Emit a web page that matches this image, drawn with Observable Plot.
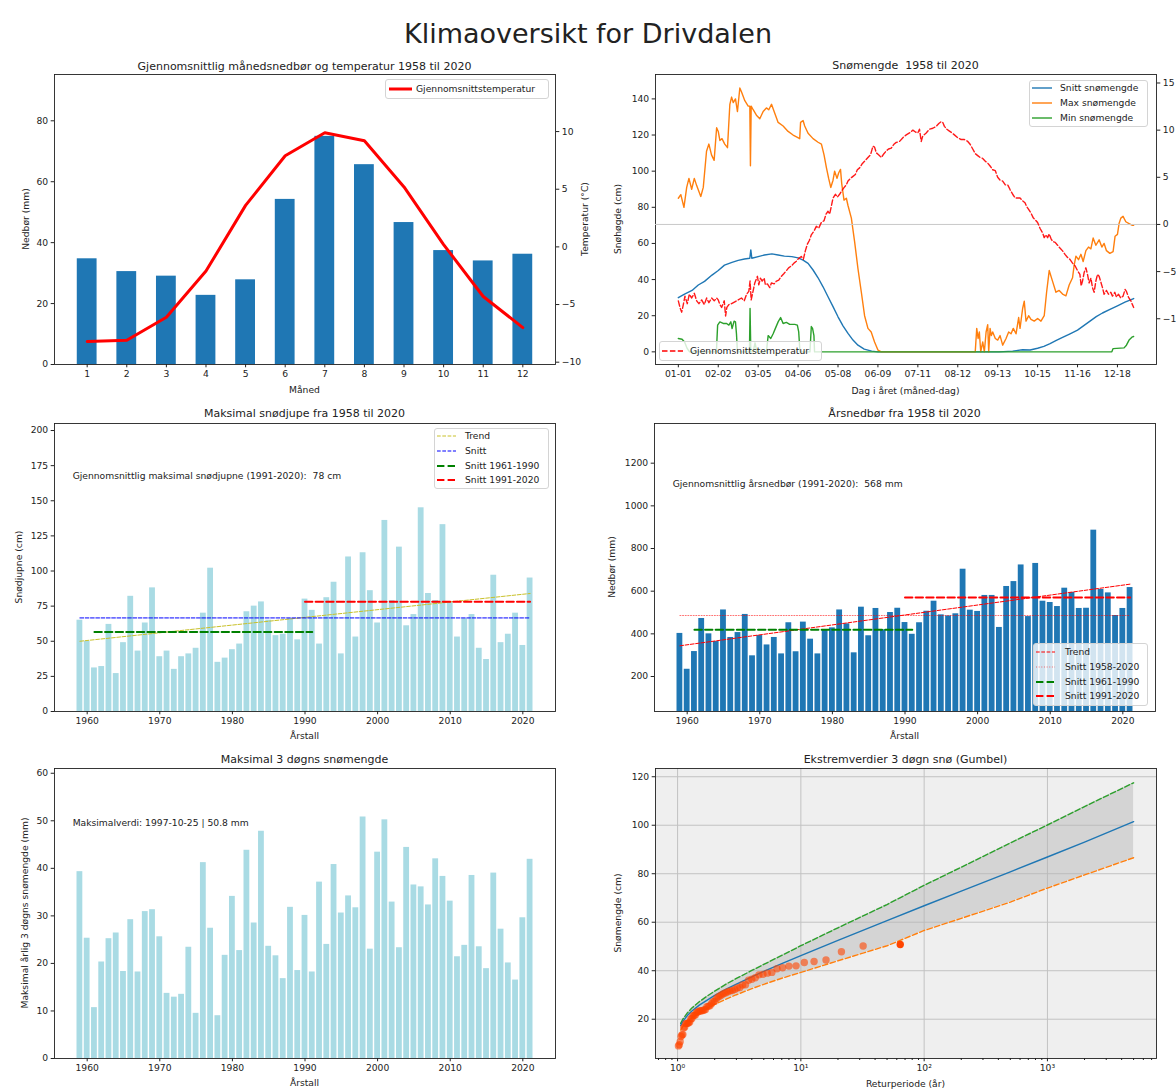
<!DOCTYPE html>
<html><head><meta charset="utf-8">
<script src="https://cdn.jsdelivr.net/npm/d3@7"></script>
<script src="https://cdn.jsdelivr.net/npm/@observablehq/plot@0.6"></script>
<style>
body{margin:0;background:#fff;}
#c{position:relative;width:1176px;height:1091px;overflow:hidden;font-family:"DejaVu Sans",sans-serif;color:#222;background:#fff;}
.t{position:absolute;white-space:pre;line-height:1;}
.lg{position:absolute;background:rgba(255,255,255,0.8);border:1px solid #d4d4d4;border-radius:3px;box-sizing:border-box;}
</style></head><body><div id="c"></div>
<script>
// ---------- DATA ----------
const months = [1,2,3,4,5,6,7,8,9,10,11,12];
const precipMonthly = [34.7,30.5,29.0,22.7,27.8,54.2,74.9,65.6,46.6,37.4,34.0,36.2];
const tempMonthly = [-8.2,-8.1,-6.1,-2.1,3.6,7.9,9.9,9.2,5.2,0.2,-4.3,-7.0];

const dayTickIdx = [0,32,64,96,128,160,192,224,256,288,320,352];
const dayTickLabels = ["01-01","02-02","03-05","04-06","05-08","06-09","07-11","08-12","09-13","10-15","11-16","12-18"];

// [day index, snow cm]
const snowMeanPts = [[0,30],[5,32],[11,34],[16,37],[21,39],[27,42.5],[32,45],[37,48],[43,49.5],[48,50.6],[53,51.4],[57.3,51.8],[58.1,56.4],[58.9,51.8],[64,52.7],[69,53.6],[75,54.2],[80,53.6],[85,53],[91,52.7],[96,52],[100,50.8],[104,49],[108,45.3],[112,41],[116,36],[120,30.5],[124,25],[128,19.4],[132,14.4],[136,10.2],[140,6.5],[144,3.7],[149,1.5],[155,0.4],[160,0],[257,0],[268,0.4],[276,1.2],[282,1],[288,2],[293,3],[298,4.5],[303,6.3],[308,8],[314,10],[320,12],[325,14.5],[330,17],[335,19.5],[340,21.5],[346,23.5],[352,25.5],[358,27.5],[365,29.5]];
const snowMaxPts = [[0,85],[2,87],[4.5,80],[6.7,91],[8.5,96],[10.7,90],[12.8,96],[14.7,92],[18,86],[20,91],[22.6,111],[24.5,115],[26.6,109],[28.7,106],[30.7,124],[32,122],[33.3,117],[35,118],[37.2,115],[39.4,113],[41.3,137],[42.7,141],[44,138],[45.8,140],[47.4,133],[49.3,146],[50.6,144],[53.3,139],[56,136],[57.3,136],[57.8,103],[58.4,136],[60,134],[62.6,131],[65.3,129],[68,133],[70.6,135],[72.5,134],[74.7,137],[77.3,132],[80,127],[84,125],[88,122],[92,120],[94.7,119],[97.3,118],[98,127],[100,128],[101.3,125],[104,121],[108,118],[112,116],[114.7,115],[116.8,109],[118.7,102],[120.5,96],[122.2,91],[124,95],[125.3,100],[127.2,96],[128.5,99],[130,101],[131,93],[132.8,84],[134.7,85],[136,81],[138.7,74],[141.3,61],[144,46],[146.7,33],[149.3,20],[152,13],[154.6,11],[157.3,5.5],[160,1],[162.7,0],[238,0],[239.2,13],[240.3,7.4],[241.3,11],[242.4,0],[244,5.5],[245.3,0],[246.7,11],[248,15],[248.8,0],[249.9,13],[250.9,9],[252,11],[254.1,7.4],[256,6.5],[257.9,9],[260,3.7],[262.7,7.4],[264.8,11],[266.7,10],[268.5,13],[270.7,10],[272.8,19],[273.9,13],[276,24],[277.3,28],[278.7,17],[280.8,20],[282.7,18],[285.3,17],[288,18.5],[290.7,17],[293.3,20],[295.2,33],[297.3,45],[300,39],[302.7,33],[305.3,34],[308,32],[310.7,31],[313.3,37],[316,41],[317.3,48],[318.7,53],[320.8,51],[322.7,54],[324.5,50],[326.7,56],[328.8,58],[330.7,57],[332.5,63],[334.7,59],[337.3,62],[339.5,58],[341.3,60],[343.2,56],[345.9,54.5],[348.5,55.5],[350.1,64],[352,65],[353.3,71],[354.7,74],[356.5,75],[358.7,72],[361.3,71],[364,70],[365,70]];
const snowMinPts = [[0,7.4],[3,7],[5,5.5],[7,2],[9,0],[30.5,0],[31.5,14.8],[33.3,16.6],[36,15.7],[38.7,15.7],[40.5,14.8],[42.1,16.6],[43.1,12.9],[44.7,17],[45.8,16.6],[46.6,10],[47.4,0],[57,0],[57.5,24],[58.1,0],[60,0],[61.5,5],[63,0],[70.6,0],[72,9],[74.1,7.4],[76,10],[77.8,13],[80,16.6],[82,19],[84,15.7],[86.6,16.3],[89.3,15.2],[93.3,15.2],[95.4,14.8],[96.5,11],[97.5,0],[105.5,0],[106.6,14],[107.6,13],[108.7,9],[109.2,0],[347.5,0],[348.5,1.8],[357.3,2.2],[359.2,3.7],[361.3,6.5],[364,8.3],[365,8.5]];
// [day index, °C]
const tempDailyPts = [[0,-8.1],[1.3,-8.8],[2.7,-9.3],[4,-8.5],[5.3,-7.6],[7.2,-8.4],[8.8,-7.4],[10.7,-7.8],[12.8,-7.3],[14.7,-8.1],[16.5,-8.4],[18.7,-8.0],[20.8,-8.5],[22.7,-7.8],[24.5,-8.3],[26.7,-7.8],[28.8,-8.1],[30.7,-7.8],[32,-8.0],[33.3,-8.5],[34.7,-8.8],[36.8,-8.1],[37.9,-9.7],[38.9,-8.8],[40.5,-8.5],[42.7,-8.4],[45.3,-8.2],[48,-8.0],[50.6,-7.8],[52.8,-8.1],[54.7,-7.4],[56.5,-7.1],[57.5,-6.0],[58.4,-8.0],[59.7,-7.2],[61.3,-6.2],[63.4,-5.5],[64.5,-6.4],[65.8,-5.7],[67.2,-6.0],[68.8,-5.7],[69.8,-6.4],[71.4,-6.3],[73.3,-6.7],[74.6,-6.2],[76.8,-6.3],[78.7,-6.0],[80.5,-5.9],[82.6,-5.5],[84.7,-5.2],[86.6,-4.9],[88.4,-4.6],[90.6,-4.4],[92.7,-4.1],[94.6,-3.9],[96.5,-3.6],[98.6,-3.4],[100.2,-3.7],[101.8,-2.8],[103.4,-2.1],[105,-1.7],[106.6,-1.1],[108.8,-0.7],[110.6,-0.2],[112.5,-0.4],[114.6,0.2],[116.8,0.4],[118.4,1.1],[120,1.4],[121.3,1.1],[122.6,1.9],[124,2.8],[125.9,3.2],[127.5,2.9],[129.3,3.2],[131.2,3.6],[132.8,3.9],[134.7,4.2],[136,4.6],[138.1,4.9],[140,5.1],[141.9,5.3],[143.5,5.8],[145.3,6.0],[147.2,6.4],[149.3,6.7],[152,7.1],[154.1,7.4],[156,8.3],[157.3,8.2],[158.7,7.6],[160.5,7.4],[162.7,7.1],[164.8,7.5],[166.7,7.8],[168.5,8.0],[170.7,8.1],[172.8,8.5],[174.7,8.7],[177.3,8.8],[180,9.2],[182.7,9.5],[185.3,9.7],[188,10.0],[190.1,9.8],[192,9.7],[193.3,10.1],[194.7,8.8],[196,9.4],[198.7,9.7],[201.3,10.1],[204,10.2],[206.7,10.4],[208.8,10.7],[210.7,10.9],[212,10.8],[213.3,10.4],[215.2,10.1],[217.3,9.9],[219.5,9.7],[221.3,9.5],[224,9.2],[226.7,9.0],[229.3,9.0],[232,8.8],[233.9,8.5],[236,8.0],[238.1,7.5],[240,7.3],[241.9,7.1],[244,7.0],[246.1,6.7],[248,6.5],[249.9,6.2],[252,5.8],[254.1,5.7],[256,5.0],[257.9,4.7],[260,4.6],[262.1,4.2],[264,4.2],[265.9,3.7],[268,3.2],[270.1,2.8],[272,2.8],[273.9,2.8],[276,2.5],[277.9,2.3],[279.2,1.9],[280.8,1.6],[282.7,1.2],[284.5,0.7],[286.1,0.5],[288,0.2],[289.9,-0.4],[292,-0.9],[293.3,-1.4],[294.7,-1.1],[296,-1.4],[297.3,-1.0],[298.7,-1.5],[300,-1.8],[302.1,-1.9],[304,-2.2],[305.9,-2.5],[308,-2.8],[310.1,-3.2],[312,-3.5],[313.9,-3.7],[316,-4.1],[318.1,-4.4],[320,-4.9],[321.9,-5.3],[322.9,-6.5],[324,-6.0],[325.3,-5.1],[326.7,-4.6],[328,-5.3],[329.3,-6.2],[330.7,-5.7],[332,-6.7],[333.3,-7.2],[334.7,-6.0],[336,-5.3],[337.3,-5.5],[338.9,-6.2],[340,-6.7],[341.3,-7.4],[343.2,-7.0],[344.8,-7.4],[346.7,-7.2],[348,-7.6],[349.9,-7.2],[351.2,-7.7],[352.8,-7.4],[354.7,-7.8],[356.5,-7.6],[358.1,-6.9],[359.2,-7.1],[360.8,-7.7],[362.7,-8.1],[364,-8.5],[365,-8.8]];

const years = d3.range(1959, 2022);
const snowDepthMax = [65,50,31,32,62,27,49,82,43,63,88,39,43,30,39,41,45,70,102,35,38,44,48,71,75,78,65,54,55,66,51,80,72,48,81,92,41,110,53,113,86,63,136,79,117,61,69,145,84,79,133,78,53,66,69,45,37,97,49,55,70,47,95];
const snowTrend = [[1959,50],[2021,84]];
const snowMeanAll = {x1:1959, x2:2021, v:66.6};
const snowMean6190 = {x1:1961, x2:1991, v:56.5};
const snowMean9120 = {x1:1990, x2:2021, v:78.2};

const annualPrecip = [402,234,317,472,400,364,512,383,406,491,297,392,348,383,306,452,316,455,375,306,420,428,512,447,311,525,391,519,419,500,520,453,398,452,506,553,489,484,494,703,511,505,580,580,430,622,645,723,481,730,553,547,528,614,594,519,520,886,608,592,486,519,617];
const precipTrend = [[1959,344],[2021,633]];
const precipMeanAll = {x1:1959, x2:2021, v:486};
const precipMean6190 = {x1:1961, x2:1991, v:419};
const precipMean9120 = {x1:1990, x2:2021, v:570};

const threeDaySnow = [39.3,25.3,10.7,20.3,25.2,26.4,18.3,29.2,18.2,30.9,31.3,25.6,13.7,12.9,13.5,23.4,9.5,41.2,27.4,9.0,21.7,34.1,22.7,43.8,28.5,47.8,23.6,21.6,16.8,31.8,18.5,30.1,18.2,37.1,24.0,40.8,30.6,34.2,31.7,50.8,23.0,43.4,50.2,32.9,23.3,44.4,36.5,36.1,32.3,42.0,38.3,33.1,21.4,23.8,38.5,23.5,18.9,39.0,27.2,20.1,16.5,29.6,41.9];

const gumbelT = [1.06,1.1,1.2,1.3,1.5,1.7,2,2.5,3,4,5,7,10,20,50,100,200,500,1000,2000,5000];
const gumbelMid = [17.4,19.0,21.5,23.3,25.8,27.6,29.8,32.5,34.5,37.5,39.7,42.9,46.2,52.5,60.7,66.8,72.8,80.8,86.9,93.0,101.5];
const gumbelUpper = [18.3,19.9,22.6,24.5,27.2,29.2,31.6,34.6,36.8,40.1,42.6,46.3,50.3,57.7,67.3,75.2,82.7,92.7,100.1,107.7,117.5];
const gumbelLower = [15.5,16.9,19.0,20.5,22.6,24.2,26.1,28.4,30.1,32.6,34.4,36.9,39.3,44.1,50.3,56.6,61.6,68.3,74.1,79.5,86.6];

// ---------- HELPERS ----------
const C = document.getElementById("c");
const NS = "http://www.w3.org/2000/svg";
const M = {l: 50, r: 45, t: 10, b: 30};
const FS = "9.2px";
function panel(frame, opts) {
  const [x0, y0, x1, y1] = frame;
  const el = Plot.plot({
    width: x1 - x0 + M.l + M.r, height: y1 - y0 + M.t + M.b,
    marginLeft: M.l, marginRight: M.r, marginTop: M.t, marginBottom: M.b,
    style: {fontFamily: '"DejaVu Sans", sans-serif', fontSize: FS, color: "#222", background: "none", overflow: "visible"},
    ...opts
  });
  Object.assign(el.style, {position: "absolute", left: (x0 - M.l) + "px", top: (y0 - M.t) + "px", maxWidth: "none"});
  C.append(el);
}
function txt(s, x, y, size, rot) {
  const d = document.createElement("div");
  d.className = "t"; d.textContent = s;
  Object.assign(d.style, {left: x + "px", top: y + "px", fontSize: size,
    transform: "translate(-50%,-50%)" + (rot ? " rotate(-90deg)" : "")});
  C.append(d);
}
function legend([x, y, w, h], sx1, sx2, tx, rows) {
  const b = document.createElement("div");
  b.className = "lg";
  Object.assign(b.style, {left: x + "px", top: y + "px", width: w + "px", height: h + "px"});
  C.append(b);
  for (const r of rows) {
    const s = document.createElementNS(NS, "svg");
    s.setAttribute("width", sx2 - sx1); s.setAttribute("height", 10);
    Object.assign(s.style, {position: "absolute", left: sx1 + "px", top: (r.cy - 5) + "px", overflow: "visible"});
    const l = document.createElementNS(NS, "line");
    l.setAttribute("x1", 0); l.setAttribute("x2", sx2 - sx1); l.setAttribute("y1", 5); l.setAttribute("y2", 5);
    l.setAttribute("stroke", r.stroke); l.setAttribute("stroke-width", r.w);
    if (r.dash) l.setAttribute("stroke-dasharray", r.dash);
    if (r.op) l.setAttribute("stroke-opacity", r.op);
    s.append(l); C.append(s);
    const t = document.createElement("div");
    t.className = "t"; t.textContent = r.label;
    Object.assign(t.style, {left: tx + "px", top: r.cy + "px", fontSize: FS, transform: "translateY(-50%)"});
    C.append(t);
  }
}
const minus = d => d < 0 ? "\u2212" + (-d) : String(d);
const plain = d => String(d);
const AX = {tickSize: 3.3, tickPadding: 3, label: null};
const DASH = "3.7,1.6", DASH2 = "7.4,3.2", DASHL = "5.5,2.4", DOT = "1,1.65";
const BLUE = "#1f77b4", ORANGE = "#ff7f0e", GREEN = "#2ca02c", LIGHT = "#a9dbe4";
const YEAR_TICKS = [1960, 1970, 1980, 1990, 2000, 2010, 2020];

// ---------- TITLES ----------
txt("Klimaoversikt for Drivdalen", 588, 33, "27px");

// ---------- PANEL 1 ----------
const P1 = [54, 74, 555, 364];
const monthData = months.map((m, i) => ({m, p: precipMonthly[i], t: tempMonthly[i]}));
panel(P1, {
  x: {domain: [0.175, 12.825]}, y: {domain: [0, 95.2]},
  marks: [
    Plot.rect(monthData, {x1: d => d.m - 0.25, x2: d => d.m + 0.25, y1: 0, y2: "p", fill: BLUE}),
    Plot.axisX({...AX, ticks: months, tickFormat: plain}),
    Plot.axisY({...AX, ticks: [0, 20, 40, 60, 80], tickFormat: plain}),
    Plot.frame({stroke: "#222", strokeWidth: 0.9})
  ]
});
panel(P1, {
  x: {domain: [0.175, 12.825], axis: null}, y: {domain: [-10.2, 14.95]},
  marks: [
    Plot.line(monthData, {x: "m", y: "t", stroke: "red", strokeWidth: 3}),
    Plot.axisY({...AX, anchor: "right", ticks: [-10, -5, 0, 5, 10], tickFormat: minus})
  ]
});
txt("Gjennomsnittlig månedsnedbør og temperatur 1958 til 2020", 304.5, 66, "11px");
txt("Måned", 304.5, 390, FS);
txt("Nedbør (mm)", 26, 219, FS, true);
txt("Temperatur (°C)", 585, 219, FS, true);
legend([385, 79, 164, 20], 389, 412, 416, [{cy: 89, stroke: "red", w: 3, label: "Gjennomsnittstemperatur"}]);

// ---------- PANEL 2 ----------
const P2 = [655, 74, 1156, 364];
const xy = {x: d => d[0], y: d => d[1]};
panel(P2, {
  x: {domain: [-18.3, 383.3]}, y: {domain: [-7, 153.5]},
  marks: [
    Plot.line(snowMeanPts, {...xy, stroke: BLUE, strokeWidth: 1.4}),
    Plot.line(snowMaxPts, {...xy, stroke: ORANGE, strokeWidth: 1.4}),
    Plot.line(snowMinPts, {...xy, stroke: GREEN, strokeWidth: 1.4}),
    Plot.axisX({...AX, ticks: dayTickIdx, tickFormat: d => dayTickLabels[dayTickIdx.indexOf(d)]}),
    Plot.axisY({...AX, ticks: [0, 20, 40, 60, 80, 100, 120, 140], tickFormat: plain}),
    Plot.frame({stroke: "#222", strokeWidth: 0.9})
  ]
});
panel(P2, {
  x: {domain: [-18.3, 383.3], axis: null}, y: {domain: [-14.85, 15.9]},
  marks: [
    Plot.ruleY([0], {stroke: "#c8c8c8", strokeWidth: 1}),
    Plot.line(tempDailyPts, {...xy, stroke: "red", strokeOpacity: 0.9, strokeWidth: 1.4, strokeDasharray: DASHL}),
    Plot.axisY({...AX, anchor: "right", ticks: [-10, -5, 0, 5, 10, 15], tickFormat: minus})
  ]
});
txt("Snømengde  1958 til 2020", 905.5, 65, "11px");
txt("Dag i året (måned-dag)", 905.5, 391, FS);
txt("Snøhøgde (cm)", 618, 219, FS, true);
legend([1029, 80, 119, 47], 1032, 1052, 1060, [
  {cy: 88, stroke: BLUE, w: 1.4, label: "Snitt snømengde"},
  {cy: 103, stroke: ORANGE, w: 1.4, label: "Max snømengde"},
  {cy: 117.5, stroke: GREEN, w: 1.4, label: "Min snømengde"}
]);
legend([659, 341, 163, 20], 662, 683, 690, [{cy: 351, stroke: "red", w: 1.4, dash: DASHL, label: "Gjennomsnittstemperatur"}]);

// ---------- PANEL 3 ----------
const P3 = [54, 423, 555, 711];
const sd = years.map((y, i) => ({y, v: snowDepthMax[i]}));
const seg = (o) => [[o.x1, o.v], [o.x2, o.v]];
panel(P3, {
  x: {domain: [1955.5, 2024.5]}, y: {domain: [0, 205]},
  marks: [
    Plot.rect(sd, {x1: d => d.y - 0.4, x2: d => d.y + 0.4, y1: 0, y2: "v", fill: LIGHT}),
    Plot.line(snowTrend, {...xy, stroke: "#c9c12a", strokeWidth: 1, strokeDasharray: DASH}),
    Plot.line(seg(snowMeanAll), {...xy, stroke: "blue", strokeWidth: 1, strokeDasharray: DASH}),
    Plot.line(seg(snowMean6190), {...xy, stroke: "green", strokeWidth: 2, strokeDasharray: DASH2}),
    Plot.line(seg(snowMean9120), {...xy, stroke: "red", strokeWidth: 2, strokeDasharray: DASH2}),
    Plot.text(["Gjennomsnittlig maksimal snødjupne (1991-2020):  78 cm"], {x: 1958, y: 167.5, textAnchor: "start", fontSize: 9.2, fill: "#222"}),
    Plot.axisX({...AX, ticks: YEAR_TICKS, tickFormat: plain}),
    Plot.axisY({...AX, ticks: [0, 25, 50, 75, 100, 125, 150, 175, 200], tickFormat: plain}),
    Plot.frame({stroke: "#222", strokeWidth: 0.9})
  ]
});
txt("Maksimal snødjupe fra 1958 til 2020", 304.5, 413, "11px");
txt("Årstall", 304.5, 736, FS);
txt("Snødjupne (cm)", 18.5, 567, FS, true);
legend([434, 428, 115, 61], 437, 456, 465, [
  {cy: 435.5, stroke: "#c9c12a", w: 1, dash: DASH, label: "Trend"},
  {cy: 450.5, stroke: "blue", w: 1, dash: DASH, label: "Snitt"},
  {cy: 465.5, stroke: "green", w: 2, dash: DASH2, label: "Snitt 1961-1990"},
  {cy: 480, stroke: "red", w: 2, dash: DASH2, label: "Snitt 1991-2020"}
]);

// ---------- PANEL 4 ----------
const P4 = [654, 423, 1155, 711];
const ap = years.map((y, i) => ({y, v: annualPrecip[i]}));
panel(P4, {
  x: {domain: [1955.5, 2024.5]}, y: {domain: [36, 1386]},
  marks: [
    Plot.rect(ap, {x1: d => d.y - 0.4, x2: d => d.y + 0.4, y1: 0, y2: "v", fill: BLUE, clip: true}),
    Plot.line(precipTrend, {...xy, stroke: "red", strokeWidth: 1, strokeDasharray: DASH}),
    Plot.line(seg(precipMeanAll), {...xy, stroke: "red", strokeOpacity: 0.55, strokeWidth: 1, strokeDasharray: DOT}),
    Plot.line(seg(precipMean6190), {...xy, stroke: "green", strokeWidth: 2, strokeDasharray: DASH2}),
    Plot.line(seg(precipMean9120), {...xy, stroke: "red", strokeWidth: 2, strokeDasharray: DASH2}),
    Plot.text(["Gjennomsnittlig årsnedbør (1991-2020):  568 mm"], {x: 1958, y: 1100, textAnchor: "start", fontSize: 9.2, fill: "#222"}),
    Plot.axisX({...AX, ticks: YEAR_TICKS, tickFormat: plain}),
    Plot.axisY({...AX, ticks: [200, 400, 600, 800, 1000, 1200], tickFormat: plain}),
    Plot.frame({stroke: "#222", strokeWidth: 0.9})
  ]
});
txt("Årsnedbør fra 1958 til 2020", 904.5, 413, "11px");
txt("Årstall", 904.5, 736, FS);
txt("Nedbør (mm)", 612, 567, FS, true);
legend([1033, 643, 115, 63], 1036, 1055, 1065, [
  {cy: 651.5, stroke: "red", w: 1, dash: DASH, label: "Trend"},
  {cy: 666.5, stroke: "red", w: 1, dash: DOT, op: 0.55, label: "Snitt 1958-2020"},
  {cy: 681.5, stroke: "green", w: 2, dash: DASH2, label: "Snitt 1961-1990"},
  {cy: 696, stroke: "red", w: 2, dash: DASH2, label: "Snitt 1991-2020"}
]);

// ---------- PANEL 5 ----------
const P5 = [54, 768, 555, 1058];
const td = years.map((y, i) => ({y, v: threeDaySnow[i]}));
panel(P5, {
  x: {domain: [1955.5, 2024.5]}, y: {domain: [0, 61]},
  marks: [
    Plot.rect(td, {x1: d => d.y - 0.4, x2: d => d.y + 0.4, y1: 0, y2: "v", fill: LIGHT}),
    Plot.text(["Maksimalverdi: 1997-10-25 | 50.8 mm"], {x: 1958, y: 49.6, textAnchor: "start", fontSize: 9.2, fill: "#222"}),
    Plot.axisX({...AX, ticks: YEAR_TICKS, tickFormat: plain}),
    Plot.axisY({...AX, ticks: [0, 10, 20, 30, 40, 50, 60], tickFormat: plain}),
    Plot.frame({stroke: "#222", strokeWidth: 0.9})
  ]
});
txt("Maksimal 3 døgns snømengde", 304.5, 759, "11px");
txt("Årstall", 304.5, 1083, FS);
txt("Maksimal årlig 3 døgns snømengde (mm)", 25, 913, FS, true);

// ---------- PANEL 6 ----------
const P6 = [655, 768, 1156, 1058];
const gumbel = gumbelT.map((T, i) => ({T, mid: gumbelMid[i], hi: gumbelUpper[i], lo: gumbelLower[i]}));
const sortedObs = threeDaySnow.slice().sort((a, b) => b - a);
const nObs = sortedObs.length;
const obs = sortedObs.map((v, i) => ({T: (nObs + 1) / (i + 1), v}));
const sup = ["\u2070", "\u00b9", "\u00b2", "\u00b3"];
const minor = [];
for (const dec of [0.1, 1, 10, 100, 1000]) for (let k = 2; k <= 9; k++) { const v = k * dec; if (v > 0.662 && v < 7670) minor.push(v); }
panel(P6, {
  x: {type: "log", domain: [0.662, 7670]}, y: {domain: [3.8, 123.4]},
  marks: [
    Plot.frame({fill: "#efefef"}),
    Plot.gridX({ticks: [1, 10, 100, 1000], stroke: "#c2c2c2", strokeOpacity: 1, strokeWidth: 1}),
    Plot.gridY({ticks: [20, 40, 60, 80, 100, 120], stroke: "#c2c2c2", strokeOpacity: 1, strokeWidth: 1}),
    Plot.areaY(gumbel, {x: "T", y1: "lo", y2: "hi", fill: "#b4b4b4", fillOpacity: 0.45}),
    Plot.line(gumbel, {x: "T", y: "hi", stroke: GREEN, strokeWidth: 1.4, strokeDasharray: DASHL}),
    Plot.line(gumbel, {x: "T", y: "lo", stroke: ORANGE, strokeWidth: 1.4, strokeDasharray: DASHL}),
    Plot.line(gumbel, {x: "T", y: "mid", stroke: BLUE, strokeWidth: 1.4}),
    Plot.dot(obs.slice(1), {x: "T", y: "v", r: 3.7, fill: "orangered", fillOpacity: 0.6, stroke: null}),
    Plot.dot(obs.slice(0, 1), {x: "T", y: "v", r: 3.7, fill: "orangered", stroke: null}),
    Plot.axisX({...AX, ticks: minor, tickSize: 2, tickFormat: () => ""}),
    Plot.axisX({...AX, ticks: [1, 10, 100, 1000], tickFormat: d => "10" + sup[Math.round(Math.log10(d))]}),
    Plot.axisY({...AX, ticks: [20, 40, 60, 80, 100, 120], tickFormat: plain}),
    Plot.frame({stroke: "#222", strokeWidth: 0.9})
  ]
});
txt("Ekstremverdier 3 døgn snø (Gumbel)", 905.5, 759, "11px");
txt("Returperiode (år)", 905.5, 1084, FS);
txt("Snømengde (cm)", 618, 913, FS, true);
</script></body></html>
